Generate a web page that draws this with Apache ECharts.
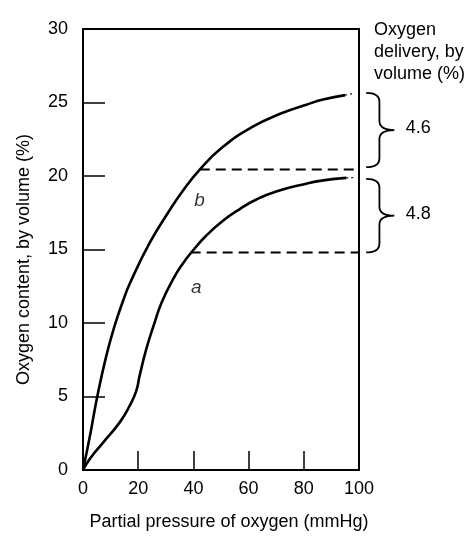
<!DOCTYPE html>
<html>
<head>
<meta charset="utf-8">
<title>Oxygen content vs partial pressure</title>
<script src="https://cdn.jsdelivr.net/npm/echarts@6/dist/echarts.min.js"></script>
<style>
    html, body { margin: 0; padding: 0; background: #ffffff; }
    #chart { width: 465px; height: 536px; }
</style>
</head>
<body>
<div id="chart"></div>
<script>
// curve b (upper)
const pressureB = [0, 2.65, 5.06, 8.44, 11.45, 14.5, 17, 24.2, 31.5, 36, 42.3, 50.5, 61, 72.4, 80.9, 87, 95];
const contentB = [0, 2.45, 4.89, 7.76, 9.8, 11.5, 12.7, 15.46, 17.7, 18.95, 20.44, 21.95, 23.3, 24.3, 24.85, 25.2, 25.5];
// curve a (lower)
const pressureA = [0, 2.4, 7.2, 13.3, 16.9, 19.3, 20.5, 22.9, 25.9, 28.5, 32.7, 36, 39.9, 44.7, 50.7, 56.8, 62.8, 70, 80.9, 87, 95.4];
const contentA = [0, 0.74, 1.85, 3.24, 4.37, 5.38, 6.4, 8.2, 10.0, 11.4, 13.0, 14.0, 14.95, 15.95, 16.95, 17.75, 18.4, 18.95, 19.48, 19.7, 19.87];
// faint dotted ends of both curves
const tailB = [[95, 25.5], [97.6, 25.6]];
const tailA = [[95.4, 19.87], [98, 19.9]];
// dashed reference levels
const dashUpper = [[42.3, 20.44], [101.3, 20.44]];
const dashLower = [[39, 14.8], [100, 14.8]];
// delivery braces: top, bottom, label
const braceTop = [25.65, 19.8];
const braceBottom = [20.6, 14.8];
const braceLabel = ['4.6', '4.8'];
// curve labels
const curveNames = ['a', 'b'];
const curveNamePos = [[41, 12.4], [42.2, 18.3]];

const xTicks = { min: 0, max: 100, interval: 20 };
const yTicks = { min: 0, max: 30, interval: 5 };

const font = 'Liberation Sans, Arial, Helvetica, sans-serif';
const chart = echarts.init(document.getElementById('chart'));

const toPairs = (xs, ys) => xs.map((x, i) => [x, ys[i]]);

chart.setOption({
    backgroundColor: '#ffffff',
    animation: false,
    textStyle: { fontFamily: font, color: '#000' },
    title: {
        text: 'Oxygen\ndelivery, by\nvolume (%)',
        left: 369,
        top: 14,
        textStyle: { fontFamily: font, fontSize: 18, fontWeight: 'normal', color: '#000', lineHeight: 22 }
    },
    grid: {
        left: 83, right: 106, top: 29, bottom: 65,
        show: true, borderColor: '#000', borderWidth: 2, backgroundColor: '#fff'
    },
    xAxis: {
        type: 'value',
        min: xTicks.min, max: xTicks.max, interval: xTicks.interval,
        name: 'Partial pressure of oxygen (mmHg)',
        nameLocation: 'middle',
        nameGap: 43,
        nameTextStyle: { fontFamily: font, fontSize: 18, color: '#000', padding: [0, 0, 0, 16] },
        axisLine: { lineStyle: { color: '#000', width: 2 } },
        axisTick: { inside: true, length: 19, lineStyle: { color: '#000', width: 1.5 } },
        axisLabel: { fontFamily: font, fontSize: 18, color: '#000', margin: 10 },
        splitLine: { show: false }
    },
    yAxis: {
        type: 'value',
        min: yTicks.min, max: yTicks.max, interval: yTicks.interval,
        name: 'Oxygen content, by volume (%)',
        nameLocation: 'middle',
        nameGap: 50,
        nameTextStyle: { fontFamily: font, fontSize: 18, color: '#000', padding: [0, 20, 0, 0] },
        axisLine: { lineStyle: { color: '#000', width: 2 } },
        axisTick: { inside: true, length: 22, lineStyle: { color: '#000', width: 1.5 } },
        axisLabel: { fontFamily: font, fontSize: 18, color: '#000', margin: 15 },
        splitLine: { show: false }
    },
    series: [
        {
            name: 'b', type: 'line', data: toPairs(pressureB, contentB),
            smooth: 0.5, showSymbol: false,
            lineStyle: { color: '#000', width: 2.6 }
        },
        {
            name: 'a', type: 'line', data: toPairs(pressureA, contentA),
            smooth: 0.5, showSymbol: false,
            lineStyle: { color: '#000', width: 2.6 }
        },
        {
            type: 'line', data: tailB, showSymbol: false, clip: false,
            lineStyle: { color: '#000', width: 1.2, type: [2, 3] }
        },
        {
            type: 'line', data: tailA, showSymbol: false, clip: false,
            lineStyle: { color: '#000', width: 1.2, type: [2, 3] }
        },
        {
            type: 'line', data: dashUpper, showSymbol: false, clip: false,
            lineStyle: { color: '#000', width: 2, type: [10, 6] }
        },
        {
            type: 'line', data: dashLower, showSymbol: false, clip: false,
            lineStyle: { color: '#000', width: 2, type: [10, 6] }
        },
        {
            type: 'scatter', symbolSize: 0,
            data: curveNamePos.map((p, i) => [p[0], p[1], curveNames[i]]),
            label: {
                show: true, position: 'inside',
                formatter: (p) => p.data[2],
                fontFamily: font, fontSize: 19, fontStyle: 'italic', color: '#000'
            }
        },
        {
            // curly braces to the right of the plot
            type: 'custom', clip: false,
            data: braceTop.map((t, i) => [t, braceBottom[i], braceLabel[i]]),
            renderItem: (params, api) => {
                const top = api.coord([102.6, api.value(0)]);
                const bottom = api.coord([102.6, api.value(1)]);
                const spineX = api.coord([107.4, 0])[0];
                const tipX = api.coord([112.8, 0])[0];
                const x0 = top[0];
                const y0 = top[1];
                const y1 = bottom[1];
                const ym = (y0 + y1) / 2;
                const r = 9;
                const path = [
                    'M', x0, y0,
                    'Q', spineX, y0, spineX, y0 + r,
                    'L', spineX, ym - r,
                    'Q', spineX, ym, tipX, ym,
                    'Q', spineX, ym, spineX, ym + r,
                    'L', spineX, y1 - r,
                    'Q', spineX, y1, x0, y1
                ].join(' ');
                const labelX = api.coord([121.5, 0])[0];
                return {
                    type: 'group',
                    children: [
                        {
                            type: 'path',
                            shape: { pathData: path },
                            style: { fill: null, stroke: '#000', lineWidth: 1.8 }
                        },
                        {
                            type: 'text',
                            style: {
                                text: api.value(2), x: labelX, y: ym - 2,
                                align: 'center', verticalAlign: 'middle',
                                fontFamily: font, fontSize: 18, fill: '#000'
                            }
                        }
                    ]
                };
            }
        }
    ]
});

window.addEventListener('resize', () => chart.resize());
</script>
</body>
</html>
